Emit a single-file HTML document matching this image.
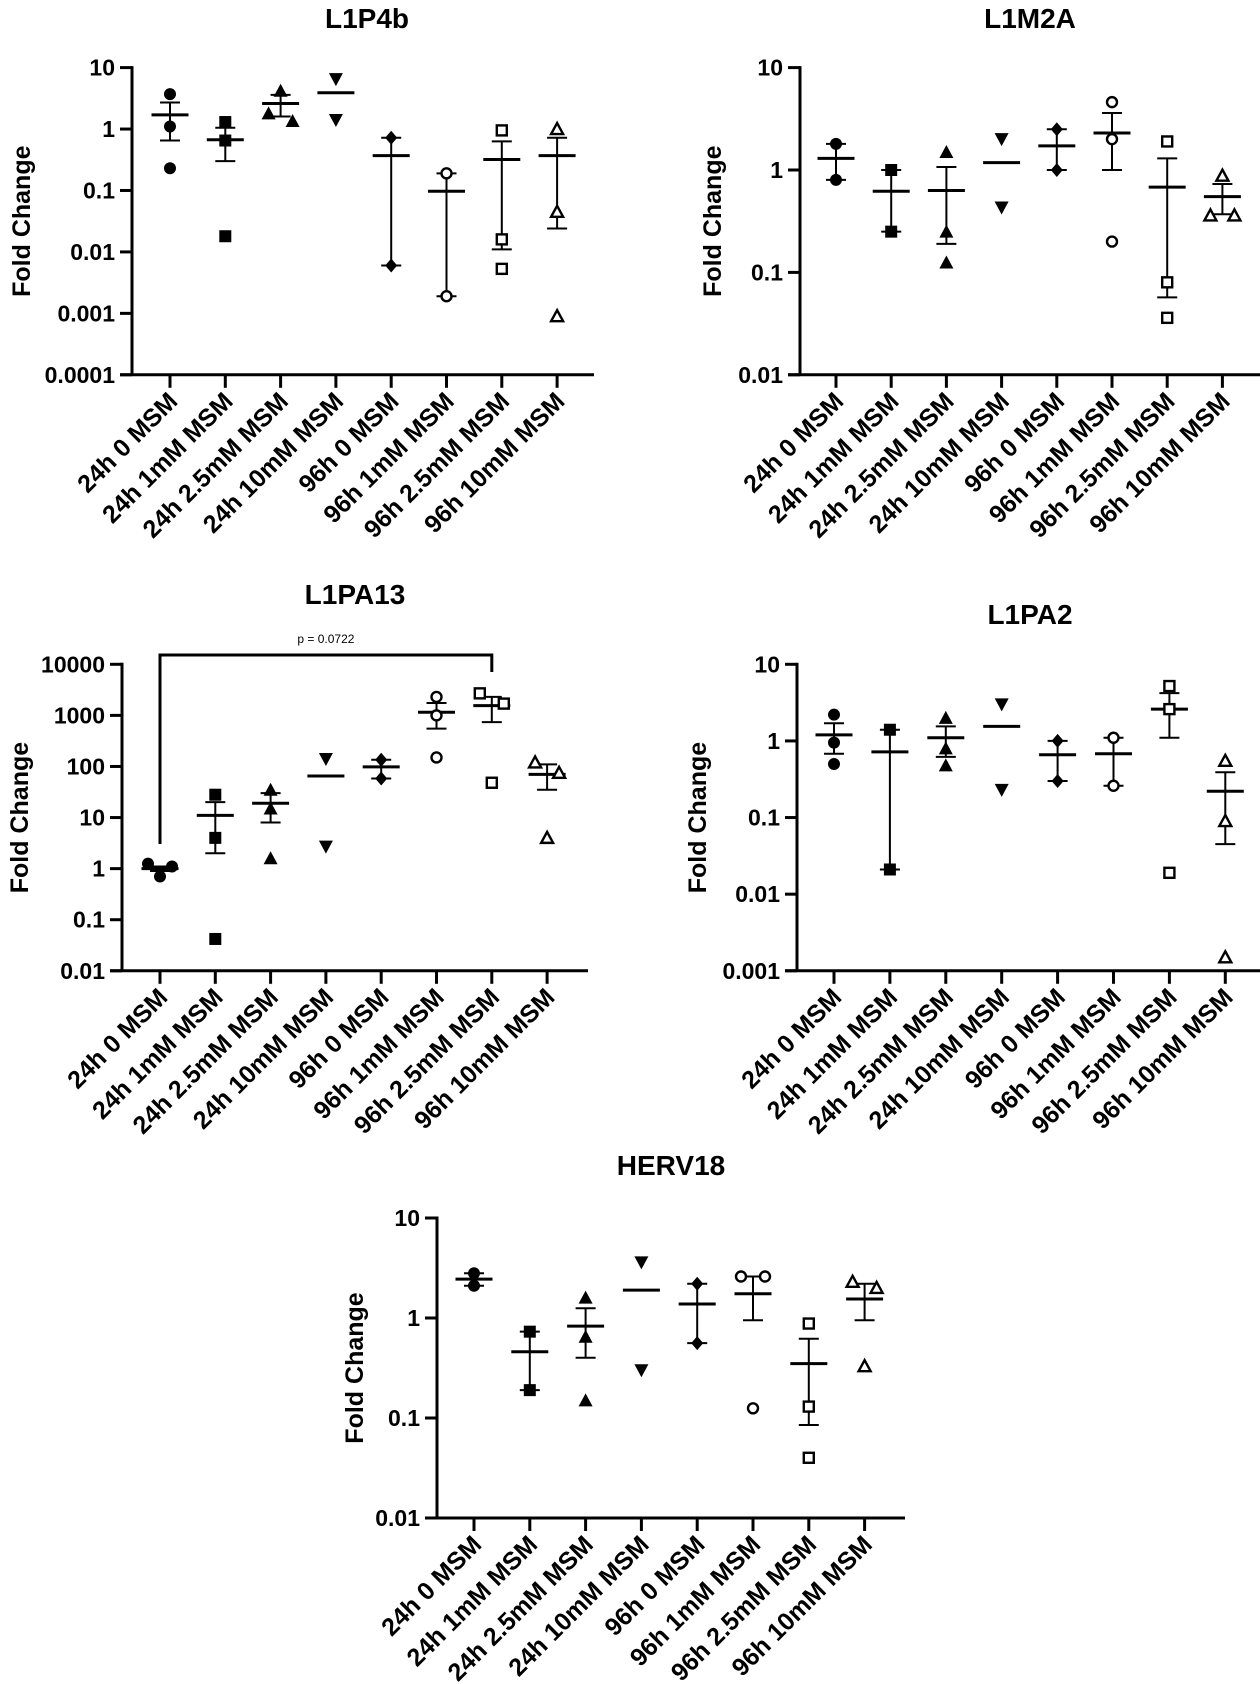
<!DOCTYPE html>
<html><head><meta charset="utf-8"><style>
html,body{margin:0;padding:0;background:#fff;}
svg{display:block;font-family:"Liberation Sans",Arial,sans-serif;}
</style></head><body>
<svg id="fig" width="1260" height="1684" viewBox="0 0 1260 1684" xmlns="http://www.w3.org/2000/svg"></svg>
<script>
const categories = ["24h 0 MSM","24h 1mM MSM","24h 2.5mM MSM","24h 10mM MSM","96h 0 MSM","96h 1mM MSM","96h 2.5mM MSM","96h 10mM MSM"];
const markerTypes = ["fcircle","fsquare","ftri","fdown","fdiamond","ocircle","osquare","otri"];

// L1P4b
const l1p4bPoints = [[3.7,1.1,0.23],[1.3,0.65,0.018],[4.2,1.8,1.35],[6.5,1.4],[0.72,0.006],[0.19,0.0019],[0.95,0.016,0.0053],[1.0,0.045,0.0009]];
const l1p4bMeans = [1.7,0.67,2.6,3.9,0.37,0.097,0.32,0.37];
const l1p4bErrLo = [0.65,0.3,1.6,null,0.006,0.0019,0.011,0.024];
const l1p4bErrHi = [2.7,1.05,3.6,null,0.72,0.19,0.63,0.72];
const l1p4bTicks = ["10","1","0.1","0.01","0.001","0.0001"];

// L1M2A
const l1m2aPoints = [[1.8,0.8],[1.0,0.25],[1.5,0.25,0.125],[2.0,0.43],[2.5,1.0],[4.6,2.0,0.2],[1.9,0.08,0.036],[0.88,0.36,0.36]];
const l1m2aMeans = [1.3,0.62,0.63,1.18,1.72,2.3,0.68,0.55];
const l1m2aErrLo = [0.8,0.25,0.19,null,1.0,1.0,0.057,0.37];
const l1m2aErrHi = [1.8,1.0,1.07,null,2.5,3.6,1.3,0.73];
const l1m2aTicks = ["10","1","0.1","0.01"];

// L1PA13
const l1pa13Points = [[1.25,0.7,1.1],[28,4,0.042],[35,15,1.6],[140,2.7],[135,58],[2300,1000,150],[2700,1700,48],[120,75,4]];
const l1pa13Means = [1.0,11,19,65,98,1150,1550,70];
const l1pa13ErrLo = [0.9,2,8,null,58,550,740,35];
const l1pa13ErrHi = [1.1,20,30,null,135,1750,2300,110];
const l1pa13Ticks = ["10000","1000","100","10","1","0.1","0.01"];

// L1PA2
const l1pa2Points = [[2.2,0.95,0.5],[1.4,0.021],[2.0,0.8,0.48],[3.0,0.23],[1.0,0.3],[1.1,0.26],[5.2,2.6,0.019],[0.55,0.09,0.0015]];
const l1pa2Means = [1.2,0.72,1.1,1.55,0.66,0.68,2.6,0.22];
const l1pa2ErrLo = [0.68,0.021,0.62,null,0.3,0.26,1.1,0.045];
const l1pa2ErrHi = [1.7,1.4,1.55,null,1.0,1.1,4.2,0.39];
const l1pa2Ticks = ["10","1","0.1","0.01","0.001"];

// HERV18
const hervPoints = [[2.8,2.1],[0.73,0.19],[1.6,0.65,0.15],[3.6,0.3],[2.2,0.56],[2.6,2.6,0.125],[0.88,0.13,0.04],[2.3,2.0,0.33]];
const hervMeans = [2.45,0.46,0.83,1.9,1.38,1.75,0.35,1.55];
const hervErrLo = [2.1,0.19,0.4,null,0.56,0.95,0.085,0.95];
const hervErrHi = [2.8,0.73,1.25,null,2.2,2.6,0.62,2.2];
const hervTicks = ["10","1","0.1","0.01"];

const NS = "http://www.w3.org/2000/svg";
const fig = document.getElementById("fig");
function mk(tag, attrs, parent){
  const e = document.createElementNS(NS, tag);
  for (const k in attrs) e.setAttribute(k, attrs[k]);
  (parent||fig).appendChild(e);
  return e;
}

function drawPanel(cfg){
  const g = mk("g", {});
  
  
  const lmax = Math.log10(cfg.max), lmin = Math.log10(cfg.min);
  const yScale = v => cfg.yTop + (lmax - Math.log10(v)) / (lmax - lmin) * (cfg.yBot - cfg.yTop);
  const xScale = i => cfg.x0 + i * cfg.dx;

  const t = mk("text", {x: cfg.titleX, y: cfg.titleY, "text-anchor": "middle", "font-size": 28, "font-weight": "bold"}, g);
  t.textContent = cfg.title;
  
  

  const yt = mk("text", {x: 0, y: 0, "text-anchor": "middle", "font-size": 25, "font-weight": "bold", transform: `translate(${cfg.yTitleX},${(cfg.yTop+cfg.yBot)/2}) rotate(-90)`}, g);
  yt.textContent = "Fold Change";
  
  

  const ya = mk("line", {x1: cfg.ax, y1: cfg.yTop-1.5, x2: cfg.ax, y2: cfg.yBot, stroke: "#000", "stroke-width": 3}, g);
  
  
  const xa = mk("line", {x1: cfg.ax-12, y1: cfg.yBot, x2: cfg.axEnd, y2: cfg.yBot, stroke: "#000", "stroke-width": 3}, g);
  
  

  cfg.ticks.forEach(lbl => {
    const v = parseFloat(lbl);
    const y = yScale(v);
    const tl = mk("line", {x1: cfg.ax-12, y1: y, x2: cfg.ax, y2: y, stroke: "#000", "stroke-width": 3}, g);
    
    
    const tx = mk("text", {x: cfg.ax-17, y: y+8, "text-anchor": "end", "font-size": 23, "font-weight": "bold"}, g);
    tx.textContent = lbl;
    
    
  });

  categories.forEach((c, i) => {
    const x = xScale(i);
    const tl = mk("line", {x1: x, y1: cfg.yBot, x2: x, y2: cfg.yBot+13, stroke: "#000", "stroke-width": 3}, g);
    
    
    const tx = mk("text", {x: 0, y: 0, "text-anchor": "end", "font-size": 25, "font-weight": "bold", transform: `translate(${x+9},${cfg.yBot+28}) rotate(-45)`}, g);
    tx.textContent = c;
    
    
  });

  cfg.points.forEach((pts, i) => {
    const cx = xScale(i);
    const typ = markerTypes[i];
    if (cfg.errLo[i] != null) {
      const yl = yScale(cfg.errLo[i]), yh = yScale(cfg.errHi[i]);
      const eb = mk("line", {x1: cx, y1: yh, x2: cx, y2: yl, stroke: "#000", "stroke-width": 2}, g);
      
      
      [yl, yh].forEach(yy => {
        const cap = mk("line", {x1: cx-10, y1: yy, x2: cx+10, y2: yy, stroke: "#000", "stroke-width": 2}, g);
        
        
      });
    }
    const ym = yScale(cfg.means[i]);
    const ml = mk("line", {x1: cx-18.5, y1: ym, x2: cx+18.5, y2: ym, stroke: "#000", "stroke-width": 3}, g);
    
    

    const ys = pts.map(v => yScale(v));
    const offs = pts.map(() => 0);
    for (let a = 0; a < ys.length; a++) for (let b = a+1; b < ys.length; b++) {
      if (Math.abs(ys[a]-ys[b]) < 11 && offs[a] === 0 && offs[b] === 0) {
        if (ys[a] < ys[b]) { offs[a] = -12; offs[b] = 12; } else { offs[a] = 12; offs[b] = -12; }
      }
    }
    pts.forEach((v, k) => {
      const x = cx + offs[k], y = ys[k];
      const r = 6;
      let m;
      const fill = typ.startsWith("f") ? "#000" : "#fff";
      const sw = typ.startsWith("f") ? 0 : 2.4;
      const rr = typ.startsWith("f") ? r : r-1;
      if (typ.endsWith("circle")) m = mk("circle", {cx: x, cy: y, r: rr, fill, stroke: "#000", "stroke-width": sw}, g);
      else if (typ.endsWith("square")) m = mk("rect", {x: x-rr, y: y-rr, width: 2*rr, height: 2*rr, fill, stroke: "#000", "stroke-width": sw}, g);
      else if (typ.endsWith("tri")) m = mk("polygon", {points: `${x},${y-rr-1} ${x-rr-1},${y+rr} ${x+rr+1},${y+rr}`, fill, stroke: "#000", "stroke-width": sw, "stroke-linejoin": "miter"}, g);
      else if (typ === "fdown") m = mk("polygon", {points: `${x-rr-1},${y-rr} ${x+rr+1},${y-rr} ${x},${y+rr+1}`, fill, stroke: "#000", "stroke-width": sw}, g);
      else m = mk("polygon", {points: `${x},${y-rr-1} ${x+rr},${y} ${x},${y+rr+1} ${x-rr},${y}`, fill, stroke: "#000", "stroke-width": sw}, g);
      
      
    });
  });
  return {yScale, xScale, g};
}

drawPanel({name:"l1p4b", title:"L1P4b", titleX:367, titleY:28, yTitleX:30, ax:132, axEnd:594, x0:170, dx:55.3, yTop:67.6, yBot:374.8, max:10, min:0.0001, ticks:l1p4bTicks, points:l1p4bPoints, means:l1p4bMeans, errLo:l1p4bErrLo, errHi:l1p4bErrHi});
drawPanel({name:"l1m2a", title:"L1M2A", titleX:1030, titleY:28, yTitleX:721, ax:800, axEnd:1260, x0:836, dx:55.2, yTop:67.6, yBot:374.8, max:10, min:0.01, ticks:l1m2aTicks, points:l1m2aPoints, means:l1m2aMeans, errLo:l1m2aErrLo, errHi:l1m2aErrHi});
const p3 = drawPanel({name:"l1pa13", title:"L1PA13", titleX:355, titleY:604, yTitleX:28, ax:122, axEnd:588, x0:160, dx:55.3, yTop:664.3, yBot:970.8, max:10000, min:0.01, ticks:l1pa13Ticks, points:l1pa13Points, means:l1pa13Means, errLo:l1pa13ErrLo, errHi:l1pa13ErrHi});
drawPanel({name:"l1pa2", title:"L1PA2", titleX:1030, titleY:624, yTitleX:706, ax:797, axEnd:1260, x0:834, dx:55.9, yTop:664.3, yBot:970.8, max:10, min:0.001, ticks:l1pa2Ticks, points:l1pa2Points, means:l1pa2Means, errLo:l1pa2ErrLo, errHi:l1pa2ErrHi});
drawPanel({name:"herv18", title:"HERV18", titleX:671, titleY:1175, yTitleX:363, ax:437, axEnd:905, x0:474, dx:55.8, yTop:1218, yBot:1518, max:10, min:0.01, ticks:hervTicks, points:hervPoints, means:hervMeans, errLo:hervErrLo, errHi:hervErrHi});

const bx1 = p3.xScale(0), bx2 = p3.xScale(6);
const br = mk("polyline", {points: `${bx1},844 ${bx1},655 ${bx2},655 ${bx2},672`, fill: "none", stroke: "#000", "stroke-width": 3});


const pt = mk("text", {x: (bx1+bx2)/2, y: 643, "text-anchor": "middle", "font-size": 12});
pt.textContent = "p = 0.0722";


</script>
</body></html>
